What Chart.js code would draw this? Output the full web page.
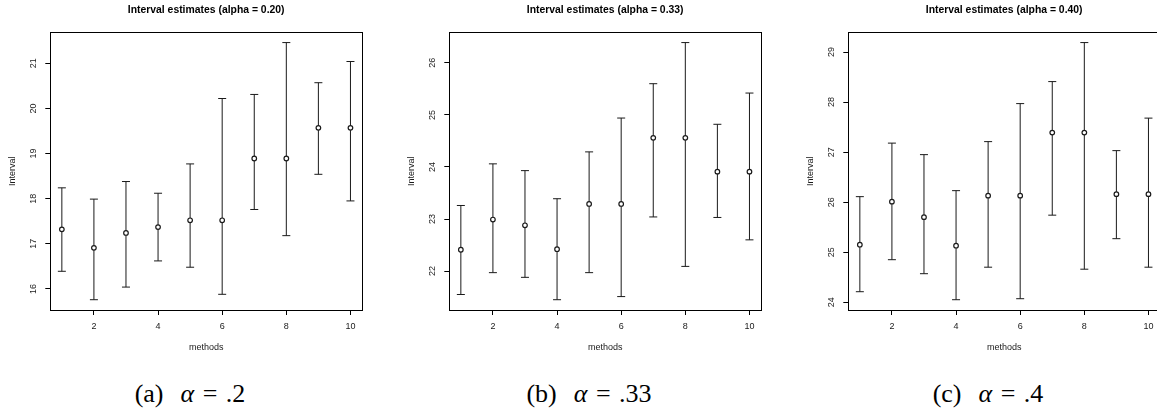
<!DOCTYPE html>
<html>
<head>
<meta charset="utf-8">
<script src="https://cdn.jsdelivr.net/npm/chart.js@4.4.1/dist/chart.umd.min.js"></script>
<style>
  html, body { margin: 0; padding: 0; background: #fff; }
  body { width: 1157px; height: 415px; overflow: hidden; position: relative; }
  .panel { position: absolute; top: 0; width: 399px; height: 415px; overflow: hidden; }
  .panel canvas { position: absolute; left: 0; top: 0; }
  .cap {
    position: absolute; top: 379px; width: 380px; left: 0; text-align: center;
    font-family: "Liberation Serif", "DejaVu Serif", serif; font-size: 26px; color: #000;
    word-spacing: 2px;
  }
</style>
</head>
<body>
<div class="panel" style="left:0px"><canvas id="c0" width="399" height="360"></canvas><div class="cap">(a)&nbsp;&nbsp;<i>α</i> = .2</div></div>
<div class="panel" style="left:399px"><canvas id="c1" width="399" height="360"></canvas><div class="cap">(b)&nbsp;&nbsp;<i>α</i> = .33</div></div>
<div class="panel" style="left:798px"><canvas id="c2" width="399" height="360"></canvas><div class="cap">(c)&nbsp;&nbsp;<i>α</i> = .4</div></div>
<script>
// data
const methods = [1, 2, 3, 4, 5, 6, 7, 8, 9, 10];
const xTicks = [2, 4, 6, 8, 10];

const mean20  = [17.32, 16.91, 17.24, 17.37, 17.52, 17.52, 18.89, 18.89, 19.57, 19.57];
const lower20 = [16.39, 15.76, 16.04, 16.62, 16.48, 15.88, 17.76, 17.18, 18.54, 17.95];
const upper20 = [18.24, 17.99, 18.38, 18.12, 18.77, 20.22, 20.31, 21.46, 20.57, 21.04];
const yTicks20 = [16, 17, 18, 19, 20, 21];

const mean33  = [22.41, 22.99, 22.88, 22.42, 23.29, 23.29, 24.56, 24.56, 23.91, 23.91];
const lower33 = [21.55, 21.97, 21.88, 21.45, 21.97, 21.51, 23.04, 22.09, 23.03, 22.60];
const upper33 = [23.26, 24.06, 23.93, 23.39, 24.29, 24.94, 25.60, 26.39, 24.82, 25.42];
const yTicks33 = [22, 23, 24, 25, 26];

const mean40  = [25.15, 26.01, 25.70, 25.13, 26.13, 26.13, 27.39, 27.39, 26.16, 26.16];
const lower40 = [24.21, 24.85, 24.57, 24.05, 24.70, 24.07, 25.74, 24.66, 25.27, 24.70];
const upper40 = [26.11, 27.18, 26.95, 26.23, 27.21, 27.97, 28.41, 29.19, 27.03, 27.68];
const yTicks40 = [24, 25, 26, 27, 28, 29];

const titles = [
  "Interval estimates (alpha = 0.20)",
  "Interval estimates (alpha = 0.33)",
  "Interval estimates (alpha = 0.40)"
];

const INK = "#1a1a1a";
const SANS = "'Liberation Sans', Arial, sans-serif";

// R style box around the plot region
const boxPlugin = {
  id: "rbox",
  afterDatasetsDraw(chart) {
    const a = chart.chartArea, ctx = chart.ctx;
    ctx.save();
    ctx.strokeStyle = "#000";
    ctx.lineWidth = 1;
    ctx.strokeRect(Math.round(a.left) + 0.5, Math.round(a.top) + 0.5,
                   Math.round(a.right - a.left), Math.round(a.bottom - a.top));
    ctx.restore();
  }
};

// R extends the data range by 4% on each side
function rRange(lo, hi) {
  const pad = (hi - lo) * 0.04;
  return [lo - pad, hi + pad];
}

function makePanel(id, title, mean, lower, upper, yTicks) {
  const xr = rRange(Math.min(...methods), Math.max(...methods));
  const yr = rRange(Math.min(...lower), Math.max(...upper));

  const bars = methods.map((m, i) => ({
    data: [{x: m, y: lower[i]}, {x: m, y: upper[i]}],
    showLine: true,
    borderColor: INK,
    borderWidth: 1,
    pointStyle: "line",
    pointRadius: 4,
    pointBorderWidth: 1,
    pointBorderColor: INK,
    order: 1
  }));

  const points = {
    data: methods.map((m, i) => ({x: m, y: mean[i]})),
    pointStyle: "circle",
    pointRadius: 2.3,
    pointBorderWidth: 1.2,
    pointBorderColor: INK,
    pointBackgroundColor: "#fff",
    order: 0
  };

  return new Chart(document.getElementById(id), {
    type: "scatter",
    data: { datasets: [points, ...bars] },
    options: {
      responsive: false,
      animation: false,
      devicePixelRatio: 1,
      layout: { padding: { left: 0, right: 37, top: 0, bottom: 0 } },
      plugins: {
        legend: { display: false },
        tooltip: { enabled: false },
        title: {
          display: true,
          text: title,
          fullSize: false,
          color: "#000",
          font: { family: SANS, size: 10.4, weight: "bold" },
          padding: { top: 3.8, bottom: 16 }
        }
      },
      scales: {
        x: {
          type: "linear",
          min: xr[0], max: xr[1],
          afterBuildTicks: s => { s.ticks = xTicks.map(v => ({value: v})); },
          afterFit: s => { s.height = 50; },
          grid: { display: true, drawOnChartArea: false, drawTicks: true, tickLength: 5, color: "#000" },
          border: { display: false },
          ticks: { color: INK, font: { family: SANS, size: 9 }, padding: 6.3, maxRotation: 0 },
          title: { display: true, text: "methods", color: INK, font: { family: SANS, size: 9 }, padding: { top: 0, bottom: 6.6 } }
        },
        y: {
          type: "linear",
          min: yr[0], max: yr[1],
          afterBuildTicks: s => { s.ticks = yTicks.map(v => ({value: v})); },
          afterFit: s => { s.width = 50.3; },
          grid: { display: true, drawOnChartArea: false, drawTicks: true, tickLength: 5, color: "#000" },
          border: { display: false },
          ticks: { color: INK, font: { family: SANS, size: 9 }, padding: 7, minRotation: 90, maxRotation: 90, crossAlign: "center" },
          title: { display: true, text: "Interval", color: INK, font: { family: SANS, size: 9 }, padding: { top: 7.6, bottom: 0 } }
        }
      }
    },
    plugins: [boxPlugin]
  });
}

makePanel("c0", titles[0], mean20, lower20, upper20, yTicks20);
makePanel("c1", titles[1], mean33, lower33, upper33, yTicks33);
makePanel("c2", titles[2], mean40, lower40, upper40, yTicks40);
</script>
</body>
</html>
